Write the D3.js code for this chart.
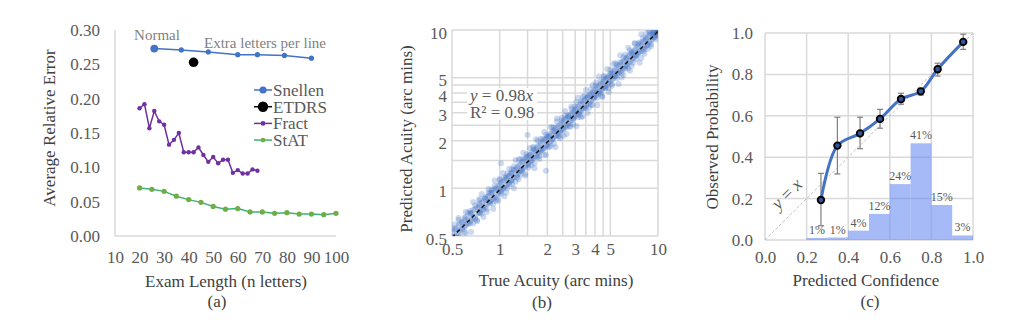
<!DOCTYPE html>
<html>
<head>
<meta charset="utf-8">
<script src="https://cdn.jsdelivr.net/npm/d3@7"></script>
<style>
  body { margin: 0; background: #fff; }
  text { font-family: "Liberation Serif", "Times New Roman", serif; }
</style>
</head>
<body>
<svg id="chart" width="1011" height="325"></svg>
<script>
'use strict';

/**** Data ****/

// (a) exam length vs average relative error
var examTicks = [10, 20, 30, 40, 50, 60, 70, 80, 90, 100];
var errorTicks = [0, 0.05, 0.10, 0.15, 0.20, 0.25, 0.30];
var seriesNames = ['Snellen', 'ETDRS', 'Fract', 'StAT'];
var snellenLength = [26, 37, 48, 60, 68, 79, 90];
var snellenError = [0.273, 0.271, 0.268, 0.264, 0.264, 0.263, 0.259];
var etdrsLength = [42];
var etdrsError = [0.253];
var fractLength = [20, 22, 24, 26, 28, 30, 32, 34, 36, 38, 40, 42, 44, 46, 48, 50, 52, 54, 56, 58, 60, 62, 64, 66, 68];
var fractError = [0.186, 0.192, 0.157, 0.182, 0.167, 0.162, 0.133, 0.140, 0.150, 0.122, 0.122, 0.122, 0.129,
                  0.118, 0.108, 0.115, 0.106, 0.111, 0.111, 0.092, 0.096, 0.091, 0.091, 0.097, 0.095];
var statLength = [20, 25, 30, 35, 40, 45, 50, 55, 60, 65, 70, 75, 80, 85, 90, 95, 100];
var statError = [0.070, 0.068, 0.065, 0.058, 0.053, 0.049, 0.043, 0.039, 0.040, 0.035, 0.035, 0.033, 0.034,
                 0.032, 0.032, 0.031, 0.033];

// (b) true vs predicted acuity: each row is a true acuity and the predictions read at it
var acuityTicks = [0.5, 1, 2, 3, 4, 5, 10];
var acuityGrid = [0.5, 1, 1.5, 2, 2.5, 3, 3.5, 4, 4.5, 5, 10];
var fitSlope = 0.98;
var acuityRows = [
  [0.5,0.47,0.53,0.56,0.43],[0.52,0.55,0.5,0.45,0.59],[0.53,0.5,0.56,0.54,0.49],[0.55,0.58,0.52,0.63,0.65],
  [0.56,0.54,0.6,0.5,0.46],[0.58,0.61,0.55,0.56,0.61],[0.6,0.57,0.63,0.65,0.53],[0.61,0.66,0.58,0.52,0.71],
  [0.63,0.6,0.64,0.7,0.6],[0.65,0.69,0.62,0.6,0.72],[0.66,0.63,0.7,0.69,0.53],[0.68,0.66,0.73,0.6,0.82],
  [0.7,0.74,0.65,0.78,0.64],[0.72,0.69,0.76,0.63,0.62],[0.74,0.7,0.8,0.75,0.84],[0.75,0.78,0.71,0.86,0.7],
  [0.77,0.73,0.81,0.69,0.92],[0.79,0.83,0.74,0.76,0.66],[0.81,0.76,0.86,0.88,0.86],[0.83,0.8,0.88,0.71,0.74],
  [0.85,0.9,0.81,0.94,0.99],[0.87,0.83,0.93,0.8,0.83],[0.89,0.85,0.94,0.93,0.98],[0.91,0.97,0.86,0.8,0.74],
  [0.93,0.88,0.99,1.04,1.12],[0.95,1.0,0.9,0.83,0.86],[0.98,0.93,1.04,0.99,0.84],[1.0,0.96,1.06,1.15,1.13],
  [1.02,1.09,0.97,0.92,0.95],[1.05,0.99,1.1,1.01,1.25],[1.07,1.13,1.01,1.17,0.89],[1.1,1.04,1.16,0.94,1.17],
  [1.12,1.06,1.19,1.24,1.0],[1.15,1.2,1.09,1.06,1.33],[1.18,1.12,1.25,1.23,1.12],[1.2,1.26,1.13,1.06,1.32],
  [1.23,1.17,1.3,1.38,1.0],[1.26,1.19,1.33,1.1,1.51],[1.29,1.36,1.22,1.3,1.17],[1.32,1.25,1.4,1.52,1.14],
  [1.35,1.29,1.41,1.22,1.53],[1.38,1.46,1.3,1.32,1.28],[1.41,1.33,1.48,1.54,1.68],[1.45,1.52,1.37,1.23,1.2],
  [1.48,1.41,1.57,1.64,1.57],[1.52,1.44,1.6,1.4,1.35],[1.55,1.63,1.47,1.61,1.8],[1.59,1.5,1.68,1.4,1.51],
  [1.63,1.55,1.71,1.83,1.79],[1.66,1.75,1.58,1.44,1.34],[1.7,1.6,1.79,1.72,2.04],[1.74,1.66,1.84,2.0,1.58],
  [1.78,1.88,1.69,1.6,1.53],[1.82,1.72,1.91,1.75,2.06],[1.87,1.77,1.97,2.04,1.74],[1.91,2.02,1.8,1.62,2.27],
  [1.96,1.86,2.06,2.18,1.63],[2.0,2.1,1.9,1.84,2.12],[2.05,1.95,2.16,2.13,1.82],[2.1,1.98,2.22,1.85,2.44],
  [2.15,2.27,2.04,2.41,2.04],[2.2,2.09,2.3,1.91,2.42],[2.25,2.14,2.37,2.27,1.82],[2.3,2.43,2.17,2.65,2.76],
  [2.36,2.23,2.48,2.12,2.15],[2.41,2.29,2.52,2.31,2.07],[2.47,2.6,2.34,2.69,2.79],[2.53,2.4,2.65,2.15,2.35],
  [2.59,2.46,2.73,2.87,3.08],[2.65,2.78,2.5,2.44,2.2],[2.71,2.57,2.86,2.82,2.87],[2.78,2.64,2.92,2.45,2.47],
  [2.84,2.99,2.69,3.18,3.29],[2.91,2.76,3.06,2.53,2.76],[2.98,2.83,3.13,3.01,3.28],[3.05,3.21,2.89,3.51,2.47],
  [3.12,2.96,3.28,2.81,3.74],[3.2,3.04,3.36,3.07,2.91],[3.27,3.44,3.1,3.56,2.81],[3.35,3.18,3.52,2.85,3.79],
  [3.43,3.26,3.6,3.81,3.19],[3.51,3.69,3.33,3.23,4.18],[3.6,3.41,3.77,3.74,2.99],[3.68,3.49,3.87,3.24,3.9],
  [3.77,3.96,3.58,4.22,3.36],[3.86,3.66,4.05,3.36,4.48],[3.95,3.75,4.15,3.99,3.75],[4.05,4.26,3.84,4.66,4.46],
  [4.14,3.93,4.35,3.73,3.35],[4.24,4.02,4.45,4.07,5.09],[4.34,4.56,4.12,4.73,3.95],[4.45,4.22,4.67,3.78,3.83],
  [4.55,4.32,4.78,5.05,5.14],[4.66,4.9,4.42,4.29,4.33],[4.77,4.53,5.01,4.96,5.68],[4.89,4.64,5.13,4.3,4.06],
  [5.0,5.26,4.74,5.6,5.3],[5.12,4.86,5.38,4.45,4.56],[5.25,4.98,5.51,5.3,6.09],[5.37,5.64,5.1,6.18,5.1],
  [5.5,5.22,5.78,4.95,6.05],[5.63,5.35,5.91,5.4,4.56],[5.77,6.06,5.48,6.29,6.92],[5.9,5.6,6.2,5.02,5.37],
  [6.05,5.74,6.35,6.72,5.2],[6.19,6.5,5.88,5.69,6.99],[6.34,6.02,6.66,6.59,5.9],[6.49,6.16,6.82,5.71,7.72],
  [6.65,6.98,6.31,7.45,5.52],[6.8,6.46,7.14,5.92,7.21],[6.97,6.62,7.32,7.04,6.2],[7.13,7.49,6.77,8.2,8.27],
  [7.3,6.93,7.67,6.57,6.94],[7.48,7.1,7.85,7.18,8.23],[7.66,8.04,7.28,8.35,6.2],[7.84,7.45,8.23,6.66,9.41],
  [8.03,7.63,8.43,8.91,7.31],[8.22,8.63,7.81,7.56,7.07],[8.41,7.99,8.83,8.75,9.5],[8.61,8.18,9.04,7.58,8.01],
  [8.82,9.26,8.38,9.88,9.7],[9.03,8.58,9.48,7.86,8.13],[9.25,8.79,9.71,9.34,9.44],[9.47,9.94,9.0,9.6,9.0],
  [9.7,9.22,10.0,8.73,9.5],[9.9,9.4,9.85,9.5,9.2],[10.0,9.7,9.95,10.1,9.7]
];
var acuityOutliers = [[1.5, 2.17], [1.96, 1.29], [1.02, 1.44]];

// (c) calibration: histogram of predicted confidence and observed probability
var confTicks = [0, 0.2, 0.4, 0.6, 0.8, 1.0];
var binStart = [0.2, 0.3, 0.4, 0.5, 0.6, 0.7, 0.8, 0.9];
var binHeight = [0.010, 0.012, 0.045, 0.126, 0.270, 0.467, 0.169, 0.022];
var binLabel = ['1%', '1%', '4%', '12%', '24%', '41%', '15%', '3%'];
var calibConf = [0.269, 0.348, 0.457, 0.553, 0.654, 0.749, 0.830, 0.953];
var calibObs = [0.193, 0.456, 0.515, 0.585, 0.681, 0.718, 0.825, 0.957];
var calibLow = [0.069, 0.319, 0.441, 0.540, 0.656, 0.700, 0.792, 0.921];
var calibHigh = [0.322, 0.593, 0.593, 0.631, 0.709, 0.733, 0.854, 0.994];

/**** Drawing ****/

var tickColor = '#595959';
var titleColor = '#404040';
var gridColor = '#d9d9d9';
var blue = '#4472c4';

var svg = d3.select('#chart');
svg.append('rect').attr('width', 1011).attr('height', 325).attr('fill', '#fff');

// common axis styling: no domain, no tick marks, grey serif labels
var styleAxis = function(g) {
    g.attr('font-family', '"Liberation Serif", serif').attr('font-size', 17);
    g.select('.domain').remove();
    g.selectAll('.tick line').remove();
    g.selectAll('.tick text').attr('fill', tickColor);
};

var addText = function(x, y, str, opts) {
    opts = opts || {};
    return svg.append('text')
        .attr('x', x).attr('y', y)
        .attr('text-anchor', opts.anchor || 'middle')
        .attr('font-size', opts.size || 17)
        .attr('fill', opts.color || titleColor)
        .attr('transform', opts.rotate ? 'rotate(' + opts.rotate + ',' + x + ',' + y + ')' : null)
        .text(str);
};

/* Panel (a) */
var xA = d3.scaleLinear().domain([10, 100]).range([115, 336]);
var yA = d3.scaleLinear().domain([0, 0.3]).range([236, 30]);
var gA = svg.append('g');

gA.append('line').attr('x1', 115).attr('x2', 115).attr('y1', yA(0.3)).attr('y2', yA(0))
    .attr('stroke', gridColor).attr('stroke-width', 1.5);
gA.append('line').attr('x1', xA(10)).attr('x2', xA(100)).attr('y1', yA(0)).attr('y2', yA(0))
    .attr('stroke', gridColor).attr('stroke-width', 1.5);

gA.append('g').attr('transform', 'translate(0,' + yA(0) + ')')
    .call(d3.axisBottom(xA).tickValues(examTicks).tickSize(0).tickPadding(15))
    .call(styleAxis);
gA.append('g').attr('transform', 'translate(115,0)')
    .call(d3.axisLeft(yA).tickValues(errorTicks).tickFormat(d3.format('.2f')).tickSize(0).tickPadding(15))
    .call(styleAxis);

var lineA = d3.line().x(function(d) { return xA(d[0]); }).y(function(d) { return yA(d[1]); });

var drawSeries = function(lengths, errors, color, lineColor, radius) {
    var pts = d3.zip(lengths, errors);
    if (pts.length > 1) {
        gA.append('path').datum(pts).attr('d', lineA)
            .attr('fill', 'none').attr('stroke', lineColor).attr('stroke-width', 1.5);
    }
    gA.selectAll(null).data(pts).enter().append('circle')
        .attr('cx', function(d) { return xA(d[0]); })
        .attr('cy', function(d) { return yA(d[1]); })
        .attr('r', function(d, i) { return typeof radius === 'function' ? radius(i) : radius; })
        .attr('fill', color);
};

drawSeries(statLength, statError, '#70ad47', '#3cb371', 2.6);
drawSeries(fractLength, fractError, '#7030a0', '#7030a0', 2.2);
drawSeries(snellenLength, snellenError, blue, blue, function(i) { return i === 0 ? 3.9 : 2.6; });
drawSeries(etdrsLength, etdrsError, '#000', '#000', 4.8);

addText(157, 40, 'Normal', { size: 15, color: '#7f7f7f' });
addText(265, 48, 'Extra letters per line', { size: 15, color: '#7f7f7f' });

//Legend
var legendColors = [blue, '#000', '#7030a0', '#3cb371'];
var legendDots = [blue, '#000', '#7030a0', '#70ad47'];
var legendRadius = [3.6, 5.2, 2.4, 2.4];
var legend = gA.selectAll('.legendItem').data(seriesNames).enter().append('g')
    .attr('class', 'legendItem')
    .attr('transform', function(d, i) { return 'translate(254,' + (90 + i * 16.7) + ')'; });
legend.append('line').attr('x1', 0).attr('x2', 18)
    .attr('stroke', function(d, i) { return legendColors[i]; }).attr('stroke-width', 1.5);
legend.append('circle').attr('cx', 9).attr('r', function(d, i) { return legendRadius[i]; })
    .attr('fill', function(d, i) { return legendDots[i]; });
legend.append('text').attr('x', 19).attr('dy', '0.35em')
    .attr('font-size', 17).attr('fill', tickColor)
    .text(function(d) { return d; });

addText(55, 128, 'Average Relative Error', { rotate: -90 });
addText(226, 287, 'Exam Length (n letters)');
addText(217, 307, '(a)');

/* Panel (b) */
var xB = d3.scaleLog().domain([0.5, 10]).range([452, 658]);
var yB = d3.scaleLog().domain([0.5, 10]).range([236, 30]);
var gB = svg.append('g');

gB.selectAll('.vGrid').data(acuityGrid).enter().append('line')
    .attr('x1', xB).attr('x2', xB).attr('y1', yB(10)).attr('y2', yB(0.5))
    .attr('stroke', gridColor).attr('stroke-width', 1.5);
gB.selectAll('.hGrid').data(acuityGrid).enter().append('line')
    .attr('y1', yB).attr('y2', yB).attr('x1', xB(0.5)).attr('x2', xB(10))
    .attr('stroke', gridColor).attr('stroke-width', 1.5);

gB.append('clipPath').attr('id', 'clipB').append('rect')
    .attr('x', xB(0.5)).attr('y', yB(10)).attr('width', xB(10) - xB(0.5)).attr('height', yB(0.5) - yB(10));

var scatter = [];
acuityRows.forEach(function(row) {
    row.slice(1).forEach(function(p) { scatter.push([row[0], p]); });
});
acuityOutliers.forEach(function(p) { scatter.push(p); });

gB.append('g').attr('clip-path', 'url(#clipB)')
    .selectAll('circle').data(scatter).enter().append('circle')
    .attr('cx', function(d) { return xB(d[0]); })
    .attr('cy', function(d) { return yB(d[1]); })
    .attr('r', 3)
    .attr('fill', blue).attr('fill-opacity', 0.27);

gB.append('line')
    .attr('x1', xB(0.5)).attr('y1', yB(0.5 * fitSlope))
    .attr('x2', xB(10)).attr('y2', yB(10 * fitSlope))
    .attr('clip-path', 'url(#clipB)')
    .attr('stroke', '#1a1a1a').attr('stroke-width', 1.6).attr('stroke-dasharray', '4,3');

gB.append('g').attr('transform', 'translate(0,' + yB(0.5) + ')')
    .call(d3.axisBottom(xB).tickValues(acuityTicks).tickFormat(d3.format('')).tickSize(0).tickPadding(7))
    .call(styleAxis);
gB.append('g').attr('transform', 'translate(' + xB(0.5) + ',0)')
    .call(d3.axisLeft(yB).tickValues(acuityTicks).tickFormat(d3.format('')).tickSize(0).tickPadding(5))
    .call(styleAxis)
    .selectAll('.tick text').attr('dy', '0.47em');

//Regression label
gB.append('rect').attr('x', 467).attr('y', 88).attr('width', 70).attr('height', 32).attr('fill', '#fff');
var eq = gB.append('text').attr('x', 470).attr('y', 101).attr('font-size', 17).attr('fill', tickColor);
eq.append('tspan').attr('font-style', 'italic').text('y');
eq.append('tspan').text(' = ' + fitSlope.toFixed(2));
eq.append('tspan').attr('font-style', 'italic').text('x');
gB.append('text').attr('x', 470).attr('y', 118).attr('font-size', 17).attr('fill', tickColor)
    .text('R\u00b2 = 0.98');

addText(412, 139, 'Predicted Acuity (arc mins)', { rotate: -90 });
addText(556, 286, 'True Acuity (arc mins)');
addText(542, 308, '(b)');

/* Panel (c) */
var xC = d3.scaleLinear().domain([0, 1]).range([765, 973]);
var yC = d3.scaleLinear().domain([0, 1]).range([240, 33]);
var gC = svg.append('g');

gC.selectAll('.vGrid').data(confTicks).enter().append('line')
    .attr('x1', xC).attr('x2', xC).attr('y1', yC(1)).attr('y2', yC(0))
    .attr('stroke', gridColor).attr('stroke-width', 1.5);
gC.selectAll('.hGrid').data(confTicks).enter().append('line')
    .attr('y1', yC).attr('y2', yC).attr('x1', xC(0)).attr('x2', xC(1))
    .attr('stroke', gridColor).attr('stroke-width', 1.5);

gC.selectAll('.bin').data(binStart).enter().append('rect')
    .attr('x', function(d) { return xC(d); })
    .attr('width', function(d) { return xC(d + 0.1) - xC(d); })
    .attr('y', function(d, i) { return yC(binHeight[i]); })
    .attr('height', function(d, i) { return yC(0) - yC(binHeight[i]); })
    .attr('fill', '#5b82ee').attr('fill-opacity', 0.55);

gC.append('line').attr('x1', xC(0)).attr('y1', yC(0)).attr('x2', xC(1)).attr('y2', yC(1))
    .attr('stroke', '#bfbfbf').attr('stroke-width', 1).attr('stroke-dasharray', '3,2');

gC.selectAll('.binLabel').data(binStart).enter().append('text')
    .attr('x', function(d) { return xC(d + 0.05); })
    .attr('y', function(d, i) { return yC(binHeight[i]) - 4; })
    .attr('text-anchor', 'middle').attr('font-size', 12).attr('fill', tickColor)
    .text(function(d, i) { return binLabel[i]; });

var calib = d3.range(calibConf.length).map(function(i) {
    return { x: calibConf[i], y: calibObs[i], lo: calibLow[i], hi: calibHigh[i] };
});

var errBars = gC.selectAll('.errBar').data(calib).enter().append('g').attr('stroke', '#7f7f7f').attr('stroke-width', 1.2);
errBars.append('line')
    .attr('x1', function(d) { return xC(d.x); }).attr('x2', function(d) { return xC(d.x); })
    .attr('y1', function(d) { return yC(d.lo); }).attr('y2', function(d) { return yC(d.hi); });
errBars.append('line')
    .attr('x1', function(d) { return xC(d.x) - 3; }).attr('x2', function(d) { return xC(d.x) + 3; })
    .attr('y1', function(d) { return yC(d.lo); }).attr('y2', function(d) { return yC(d.lo); });
errBars.append('line')
    .attr('x1', function(d) { return xC(d.x) - 3; }).attr('x2', function(d) { return xC(d.x) + 3; })
    .attr('y1', function(d) { return yC(d.hi); }).attr('y2', function(d) { return yC(d.hi); });

gC.append('path').datum(calib)
    .attr('d', d3.line().curve(d3.curveCatmullRom)
        .x(function(d) { return xC(d.x); }).y(function(d) { return yC(d.y); }))
    .attr('fill', 'none').attr('stroke', blue).attr('stroke-width', 3);

gC.selectAll('.calibPoint').data(calib).enter().append('circle')
    .attr('cx', function(d) { return xC(d.x); })
    .attr('cy', function(d) { return yC(d.y); })
    .attr('r', 3.3)
    .attr('fill', '#2f5597').attr('stroke', '#000').attr('stroke-width', 1.8);

gC.append('g').attr('transform', 'translate(0,' + yC(0) + ')')
    .call(d3.axisBottom(xC).tickValues(confTicks).tickFormat(d3.format('.1f')).tickSize(0).tickPadding(11))
    .call(styleAxis);
gC.append('g').attr('transform', 'translate(' + xC(0) + ',0)')
    .call(d3.axisLeft(yC).tickValues(confTicks).tickFormat(d3.format('.1f')).tickSize(0).tickPadding(12))
    .call(styleAxis);

var yx = addText(791, 198, '', { rotate: -45, color: tickColor, size: 18 });
yx.append('tspan').attr('font-style', 'italic').text('y');
yx.append('tspan').text(' = ');
yx.append('tspan').attr('font-style', 'italic').text('x');

addText(718, 137, 'Observed Probability', { rotate: -90 });
addText(866, 286, 'Predicted Confidence');
addText(870, 307, '(c)');
</script>
</body>
</html>
